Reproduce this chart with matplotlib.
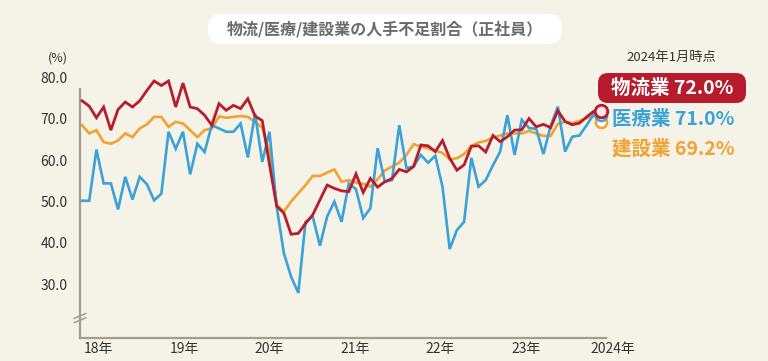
import matplotlib
matplotlib.use("Agg")
import matplotlib.pyplot as plt
from matplotlib.patches import FancyBboxPatch
from matplotlib.transforms import IdentityTransform

plt.rcParams['font.family'] = ['Noto Sans CJK JP', 'DejaVu Sans']

# 2018年1月〜2024年1月 の月次データ (%)
butsuryu = [74.4, 73.1, 70.3, 72.9, 67.3, 72.3, 74.1, 72.9, 74.4, 76.9, 79.2, 78.1,
            79.2, 72.9, 78.7, 72.9, 72.5, 70.9, 68.5, 73.7, 72.1, 73.3, 72.5, 74.9,
            70.7, 69.6, 59.0, 48.9, 47.2, 42.1, 42.3, 44.7, 46.8, 50.4, 54.0, 53.2,
            52.6, 52.4, 56.7, 52.2, 55.6, 53.5, 54.8, 55.6, 57.8, 57.2, 58.5, 63.7,
            63.5, 62.1, 64.8, 60.5, 57.6, 58.9, 63.4, 63.5, 62.0, 66.0, 64.5, 65.7,
            67.3, 67.4, 70.1, 68.1, 68.7, 67.9, 72.0, 69.4, 68.6, 69.0, 70.5, 71.9,
            72.0]
iryo = [50.2, 50.2, 62.6, 54.4, 54.4, 48.1, 56.0, 50.5, 56.0, 54.2, 50.3, 51.9,
        66.9, 62.8, 66.9, 56.6, 64.0, 62.0, 68.5, 67.7, 66.9, 66.9, 68.9, 60.7,
        71.3, 59.6, 66.9, 48.8, 37.5, 31.8, 27.9, 45.1, 46.4, 39.3, 46.4, 50.0,
        45.1, 54.4, 53.0, 46.0, 48.4, 62.9, 54.8, 55.2, 68.5, 58.1, 58.5, 61.3,
        59.4, 61.1, 53.6, 38.5, 43.1, 45.1, 60.6, 53.6, 55.2, 58.8, 62.1, 70.9,
        61.3, 69.8, 67.8, 67.6, 61.5, 68.3, 73.0, 62.1, 65.7, 66.0, 68.5, 71.2,
        71.0]
kensetsu = [68.5, 66.5, 67.3, 64.4, 64.0, 64.8, 66.5, 65.6, 67.7, 68.7, 70.5, 70.5,
            68.1, 69.3, 68.9, 67.3, 65.6, 67.3, 67.7, 70.6, 70.3, 70.5, 70.7, 70.5,
            69.3, 67.9, 62.0, 49.2, 47.6, 50.0, 52.0, 54.0, 56.2, 56.2, 57.0, 57.8,
            54.8, 55.2, 54.6, 54.3, 53.6, 55.4, 57.5, 58.5, 59.4, 61.3, 63.9, 63.3,
            62.9, 62.3, 61.8, 60.2, 60.5, 61.5, 63.5, 64.3, 64.7, 65.5, 66.0, 66.5,
            66.5, 66.5, 67.1, 66.5, 65.9, 65.9, 68.8, 69.3, 69.0, 69.5, 70.2, 70.8,
            69.2]

y_ticks = [30, 40, 50, 60, 70, 80]
x_labels = ["18年", "19年", "20年", "21年", "22年", "23年", "2024年"]
x_label_pos = [0.3, 12.2, 23.9, 35.8, 47.7, 59.6, 70.5]

RED = "#b71c2c"
BLUE = "#3aa2d9"
ORANGE = "#f2a230"
BG = "#f5f2e8"
AXIS = "#a29c92"
TXT = "#333333"

fig = plt.figure(figsize=(7.68, 3.61), dpi=100, facecolor=BG)
ax = fig.add_axes([80 / 768, 23.5 / 361, 526 / 768, 268.1 / 361])
ax.set_facecolor(BG)

meses = list(range(len(butsuryu)))
ax.plot(meses, kensetsu, color=ORANGE, lw=1.9, zorder=2, solid_joinstyle="miter")
ax.plot(meses, iryo, color=BLUE, lw=1.9, zorder=3, solid_joinstyle="miter")
ax.plot(meses, butsuryu, color=RED, lw=2.0, zorder=4, solid_joinstyle="miter")

# 最新値のマーカー
ax.plot(meses[-1], kensetsu[-1], "o", ms=8, mfc="white", mec=ORANGE, mew=1.8, zorder=5, clip_on=False)
ax.plot(meses[-1], iryo[-1], "o", ms=8, mfc="white", mec=BLUE, mew=1.8, zorder=6, clip_on=False)
ax.plot(meses[-1], butsuryu[-1], "o", ms=9, mfc="#fbe6ea", mec=RED, mew=2.0, zorder=7, clip_on=False)

ax.set_xlim(-0.28, 72.68)
ax.set_ylim(17.1, 82)

for s in ["top", "right"]:
    ax.spines[s].set_visible(False)
for s in ["left", "bottom"]:
    ax.spines[s].set_color(AXIS)
    ax.spines[s].set_linewidth(1.6)
ax.spines["left"].set_bounds(17.1, 77.3)

ax.set_yticks(y_ticks, [f"{v:.1f}" for v in y_ticks])
ax.set_xticks(x_label_pos, x_labels)
for lab in ax.get_xticklabels():
    lab.set_ha("left")
ax.tick_params(axis="y", length=0, pad=9, labelsize=10, labelcolor=TXT)
ax.tick_params(axis="x", length=0, pad=3, labelsize=10, labelcolor=TXT)

# 縦軸の省略記号
tr = ax.transAxes
by = (21.8 - 17.1) / (82 - 17.1)
for off in (-0.008, 0.008):
    ax.plot([-0.011, 0.011], [by + off - 0.009, by + off + 0.009], color=AXIS,
            lw=1.1, transform=tr, clip_on=False, zorder=5)

ax.text(-0.0228, 1.041, "(%)", transform=tr, ha="right", va="center", fontsize=9, color=TXT)

# タイトル
ident = IdentityTransform()
fig.patches.append(FancyBboxPatch((208, 361 - 44), 354, 30,
                                  boxstyle="round,pad=0,rounding_size=14",
                                  transform=ident, fc="white", ec="none"))
fig.text(385 / 768, 1 - 29.5 / 361, "物流/医療/建設業の人手不足割合（正社員）",
         ha="center", va="center", fontsize=11.5, fontweight="bold", color="#6b6b6b")

# 右側の注記
fig.text(671 / 768, 1 - 57 / 361, "2024年1月時点", ha="center", va="center",
         fontsize=9.5, color=TXT)
fig.patches.append(FancyBboxPatch((598, 361 - 103), 148, 30,
                                  boxstyle="round,pad=0,rounding_size=10",
                                  transform=ident, fc=RED, ec="none"))
fig.text(672 / 768, 1 - 88.5 / 361, f"物流業 {butsuryu[-1]:.1f}%", ha="center", va="center",
         fontsize=14, fontweight="bold", color="white")
fig.text(612 / 768, 1 - 120 / 361, f"医療業 {iryo[-1]:.1f}%", ha="left", va="center",
         fontsize=14, fontweight="bold", color=BLUE)
fig.text(612 / 768, 1 - 149 / 361, f"建設業 {kensetsu[-1]:.1f}%", ha="left", va="center",
         fontsize=14, fontweight="bold", color=ORANGE)

fig.savefig("out.png", dpi=100, facecolor=BG)
